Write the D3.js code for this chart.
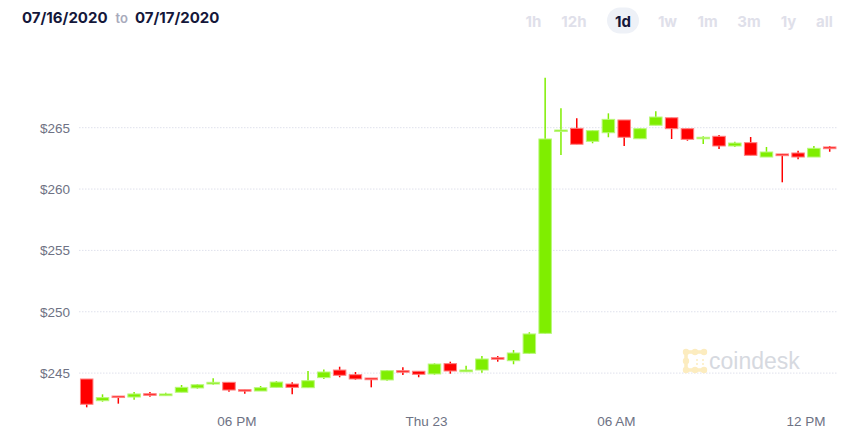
<!DOCTYPE html>
<html>
<head>
<meta charset="utf-8">
<script src="https://cdn.jsdelivr.net/npm/d3@7"></script>
<style>
    body { margin: 0; background: #fff; }
    #chart { width: 858px; height: 442px; }
    .tick-label { font-family: "Liberation Sans", Arial, sans-serif; font-size: 13.5px; fill: #6e7284; }
    .btn { font-family: Inter, "Noto Sans", sans-serif; font-size: 15px; font-weight: 700; fill: #dfe0ea; }
</style>
</head>
<body>
<div id="chart"></div>
<script>

// 30 minute candles, 07/22 13:15 -> 07/23 12:45
const times = [
    "2020-07-22 13:15","2020-07-22 13:45","2020-07-22 14:15","2020-07-22 14:45","2020-07-22 15:15","2020-07-22 15:45",
    "2020-07-22 16:15","2020-07-22 16:45","2020-07-22 17:15","2020-07-22 17:45","2020-07-22 18:15","2020-07-22 18:45",
    "2020-07-22 19:15","2020-07-22 19:45","2020-07-22 20:15","2020-07-22 20:45","2020-07-22 21:15","2020-07-22 21:45",
    "2020-07-22 22:15","2020-07-22 22:45","2020-07-22 23:15","2020-07-22 23:45","2020-07-23 00:15","2020-07-23 00:45",
    "2020-07-23 01:15","2020-07-23 01:45","2020-07-23 02:15","2020-07-23 02:45","2020-07-23 03:15","2020-07-23 03:45",
    "2020-07-23 04:15","2020-07-23 04:45","2020-07-23 05:15","2020-07-23 05:45","2020-07-23 06:15","2020-07-23 06:45",
    "2020-07-23 07:15","2020-07-23 07:45","2020-07-23 08:15","2020-07-23 08:45","2020-07-23 09:15","2020-07-23 09:45",
    "2020-07-23 10:15","2020-07-23 10:45","2020-07-23 11:15","2020-07-23 11:45","2020-07-23 12:15","2020-07-23 12:45"
];

const opens = [244.52,242.75,243.13,243.05,243.32,243.16,243.44,243.79,244.11,244.25,243.65,243.54,
    243.84,244.11,243.81,244.63,245.25,244.87,244.60,244.44,245.20,245.15,244.93,245.77,
    245.11,245.25,246.26,246.01,246.61,248.24,264.73,264.95,263.89,264.59,265.63,264.10,
    265.20,265.81,264.92,264.10,264.30,263.51,263.78,262.61,262.86,262.94,262.61,263.43];

const highs = [244.52,243.27,243.13,243.46,243.46,243.40,244.03,244.11,244.58,244.25,243.65,243.95,
    244.35,244.25,245.17,245.29,245.52,245.09,244.60,245.25,245.47,245.15,245.80,245.93,
    245.60,246.39,246.39,246.88,248.33,269.07,266.58,265.77,264.81,266.17,265.63,264.98,
    266.34,265.81,264.92,264.30,264.41,263.86,264.24,263.43,262.86,263.13,263.51,263.51];

const lows = [242.21,242.67,242.51,242.83,243.08,243.16,243.44,243.73,244.05,243.48,243.32,243.54,
    243.84,243.27,243.81,244.52,244.66,244.46,243.84,244.38,244.85,244.66,244.87,244.95,
    245.11,245.03,245.93,245.72,246.56,248.20,262.78,263.65,263.73,264.22,263.51,264.10,
    265.20,264.08,263.94,263.67,263.26,263.43,262.75,262.61,260.55,262.42,262.61,263.04];

const closes = [242.46,243.00,243.05,243.30,243.19,243.30,243.84,244.05,244.25,243.62,243.54,243.81,
    244.27,243.84,244.38,245.09,244.82,244.52,244.46,245.20,245.07,244.90,245.74,245.17,
    245.25,246.15,246.13,246.64,248.19,264.08,264.81,263.65,264.76,265.68,264.22,264.92,
    265.87,264.92,264.05,264.22,263.51,263.75,262.75,263.02,262.72,262.61,263.32,263.29];

const yTicks = [245, 250, 255, 260, 265];
const ranges = ["1h", "12h", "1d", "1w", "1m", "3m", "1y", "all"];
const activeRange = "1d";

const parseTime = d3.timeParse("%Y-%m-%d %H:%M");

let data = times.map(function(t, i) {
    return {date: parseTime(t), open: opens[i], high: highs[i], low: lows[i], close: closes[i]};
});

const width = 858;
const height = 442;

const svg = d3.select("#chart")
    .append("svg")
    .attr("width", width)
    .attr("height", height);

/* SCALES */

const xScale = d3.scaleTime()
    .domain([data[0].date, data[data.length - 1].date])
    .range([86.7, 829.7]);

const yScale = d3.scaleLinear()
    .domain([245, 265])
    .range([373.1, 127.7]);

/* HEADER */

const header = svg.append("text")
    .attr("x", 22)
    .attr("y", 23)
    .attr("font-family", "Inter, 'Noto Sans', sans-serif");

header.append("tspan")
    .attr("font-size", 15)
    .attr("font-weight", 700)
    .attr("fill", "#14173a")
    .text("07/16/2020");

header.append("tspan")
    .attr("dx", 8)
    .attr("font-size", 13)
    .attr("font-weight", 600)
    .attr("fill", "#a8aabb")
    .text("to");

header.append("tspan")
    .attr("dx", 7)
    .attr("font-size", 15)
    .attr("font-weight", 700)
    .attr("fill", "#14173a")
    .text("07/17/2020");

// range buttons
const btnX = d3.scalePoint()
    .domain(ranges)
    .range([533.5, 824.5]);

const btnCenters = {"1h": 533.5, "12h": 574, "1d": 623, "1w": 667.5, "1m": 707.5, "3m": 749, "1y": 788.5, "all": 824.5};

svg.append("rect")
    .attr("x", btnCenters[activeRange] - 16)
    .attr("y", 7.5)
    .attr("width", 32)
    .attr("height", 26)
    .attr("rx", 13)
    .attr("fill", "#eef1f7");

svg.selectAll(".btn")
    .data(ranges)
    .enter()
    .append("text")
    .attr("class", "btn")
    .attr("x", function(d) { return btnCenters[d]; })
    .attr("y", 27)
    .attr("text-anchor", "middle")
    .attr("fill", function(d) { return d === activeRange ? "#14173a" : "#dfe0ea"; })
    .style("fill", function(d) { return d === activeRange ? "#14173a" : "#dfe0ea"; })
    .text(function(d) { return d; });

/* GRID + Y LABELS */

svg.selectAll(".grid")
    .data(yTicks)
    .enter()
    .append("line")
    .attr("class", "grid")
    .attr("x1", 79)
    .attr("x2", 838)
    .attr("y1", function(d) { return yScale(d); })
    .attr("y2", function(d) { return yScale(d); })
    .attr("stroke", "#dfe1ec")
    .attr("stroke-width", 1)
    .attr("stroke-dasharray", "1.5,1.5");

svg.selectAll(".ylabel")
    .data(yTicks)
    .enter()
    .append("text")
    .attr("class", "tick-label")
    .attr("x", 70)
    .attr("y", function(d) { return yScale(d); })
    .attr("dy", "0.36em")
    .attr("text-anchor", "end")
    .text(function(d) { return "$" + d; });

/* WATERMARK */

const mark = svg.append("g").attr("fill", "#fcecbf").attr("stroke", "#fcecbf");
mark.append("path")
    .attr("d", "M704,352 H686 V370 H704")
    .attr("fill", "none")
    .attr("stroke-width", 3.5);
[[686,352],[695,352],[704,352],[686,361],[686,370],[695,370],[704,370]].forEach(function(p) {
    mark.append("circle").attr("cx", p[0]).attr("cy", p[1]).attr("r", 3.2).attr("stroke", "none");
});
[[697,360],[703,360],[697,364],[703,364]].forEach(function(p) {
    mark.append("circle").attr("cx", p[0]).attr("cy", p[1]).attr("r", 1).attr("stroke", "none");
});

svg.append("text")
    .attr("x", 709)
    .attr("y", 369)
    .attr("font-family", "'Liberation Sans', Arial, sans-serif")
    .attr("font-size", 23)
    .attr("fill", "#d6d9e0")
    .text("coindesk");

/* X AXIS LABELS */

const formatTick = function(d) {
    if (d.getHours() === 0) return d3.timeFormat("%a %d")(d);
    return d3.timeFormat("%I %p")(d);
};

svg.selectAll(".xlabel")
    .data(d3.timeHour.every(6).range(data[0].date, data[data.length - 1].date))
    .enter()
    .append("text")
    .attr("class", "tick-label")
    .attr("x", function(d) { return xScale(d); })
    .attr("y", 425.5)
    .attr("text-anchor", "middle")
    .text(formatTick);

/* CANDLES */

const green = "#7fee00";
const red = "#ff0000";
const bodyW = 12.5;

const candles = svg.selectAll(".candle")
    .data(data)
    .enter()
    .append("g")
    .attr("class", "candle");

candles.append("line")
    .attr("x1", function(d) { return xScale(d.date); })
    .attr("x2", function(d) { return xScale(d.date); })
    .attr("y1", function(d) { return yScale(d.high); })
    .attr("y2", function(d) { return yScale(d.low); })
    .attr("stroke", function(d) { return d.close >= d.open ? green : red; })
    .attr("stroke-width", 1.5);

candles.append("rect")
    .attr("x", function(d) { return xScale(d.date) - bodyW / 2; })
    .attr("y", function(d) { return yScale(Math.max(d.open, d.close)); })
    .attr("width", bodyW)
    .attr("height", function(d) { return Math.max(1.5, Math.abs(yScale(d.open) - yScale(d.close))); })
    .attr("fill", function(d) { return d.close >= d.open ? green : red; })
    .attr("stroke", function(d) { return d.close >= d.open ? "#b9f77a" : "#ff8080"; })
    .attr("stroke-width", 1);

</script>
</body>
</html>
